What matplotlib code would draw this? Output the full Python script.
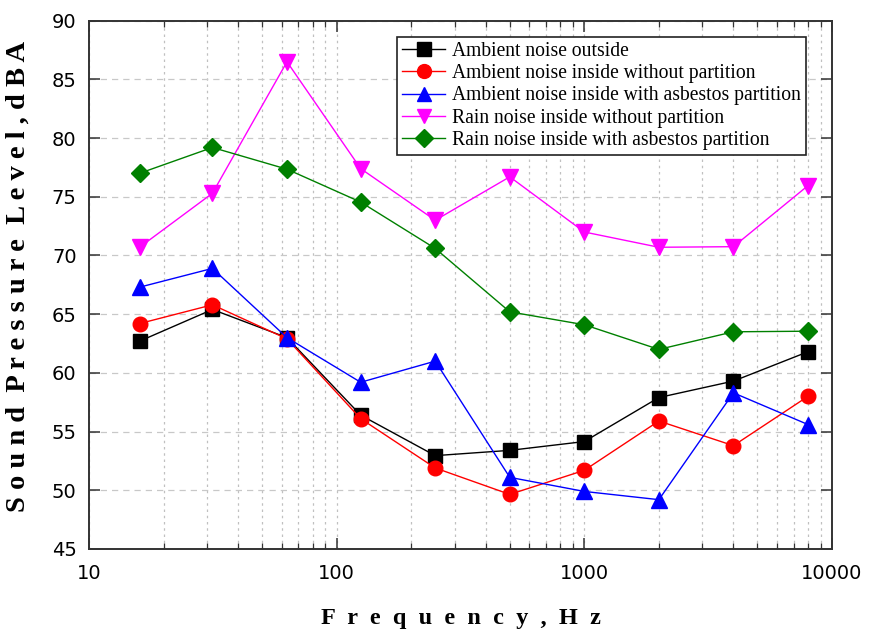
import matplotlib
matplotlib.use("Agg")
import matplotlib.pyplot as plt
from matplotlib.ticker import LogLocator, NullFormatter, FixedLocator

freq = [16, 31.5, 63, 125, 250, 500, 1000, 2000, 4000, 8000]
ambient_outside = [62.7, 65.4, 63.0, 56.4, 52.95, 53.4, 54.15, 57.9, 59.3, 61.8]
ambient_inside_no_part = [64.2, 65.8, 62.9, 56.1, 51.9, 49.65, 51.7, 55.9, 53.8, 58.0]
ambient_inside_asbestos = [67.3, 68.9, 63.0, 59.2, 61.0, 51.1, 49.9, 49.2, 58.3, 55.6]
rain_inside_no_part = [70.7, 75.3, 86.5, 77.4, 73.0, 76.7, 72.0, 70.7, 70.75, 75.95]
rain_inside_asbestos = [77.0, 79.2, 77.35, 74.55, 70.6, 65.2, 64.1, 62.0, 63.5, 63.55]

labels = ["Ambient noise outside",
          "Ambient noise inside without partition",
          "Ambient noise inside with asbestos partition",
          "Rain noise inside without partition",
          "Rain noise inside with asbestos partition"]
series = [ambient_outside, ambient_inside_no_part, ambient_inside_asbestos,
          rain_inside_no_part, rain_inside_asbestos]
colors = ["#000000", "#FF0000", "#0000FF", "#FF00FF", "#008000"]
markers = ["s", "o", "^", "v", "D"]
msizes = [10, 10.5, 11, 11, 9.5]

yticks = [45, 50, 55, 60, 65, 70, 75, 80, 85, 90]
xtick_labels = ["10", "100", "1000", "10000"]

fig = plt.figure(figsize=(8.71, 6.31), dpi=100)
ax = fig.add_axes([0.1022, 0.1300, 0.9552 - 0.1022, 0.9672 - 0.1300])

for ys, c, m, ms, lab in zip(series, colors, markers, msizes, labels):
    ax.plot(freq, ys, color=c, marker=m, markersize=ms, linewidth=1.0,
            markeredgecolor=c, label=lab, zorder=3)

ax.set_xscale("log")
ax.set_xlim(10, 10000)
ax.set_ylim(45, 90)
ax.xaxis.set_major_locator(FixedLocator([10, 100, 1000, 10000]))
ax.set_xticklabels(xtick_labels)
ax.xaxis.set_minor_locator(LogLocator(base=10, subs=range(2, 10)))
ax.xaxis.set_minor_formatter(NullFormatter())
ax.set_yticks(yticks)

ax.grid(True, which="both", axis="x", linestyle=(0, (2, 3)), color="#c0c0c0", linewidth=0.9)
ax.grid(True, which="major", axis="y", linestyle=(0, (5, 4)), color="#c8c8c8", linewidth=0.9)
ax.set_axisbelow(True)

ax.tick_params(axis="both", which="major", direction="in", length=8, width=1.1,
               top=True, right=True, labelsize=14, pad=11, color="#333333")
ax.tick_params(axis="x", which="minor", direction="in", length=4.5, width=0.9,
               top=True, bottom=True, color="#333333")
ax.tick_params(axis="y", which="minor", left=False, right=False)
for lab in ax.get_xticklabels() + ax.get_yticklabels():
    lab.set_fontfamily("DejaVu Sans")
ax.tick_params(axis="y", pad=9)

for sp in ax.spines.values():
    sp.set_linewidth(1.4)
    sp.set_color("#333333")

xl = "  ".join(list("Frequency,Hz"))
ax.set_xlabel(xl, fontfamily="Liberation Serif", fontweight="bold", fontsize=17.5)
ax.xaxis.set_label_coords(0.5, -0.112)
yl = "S o u n d  P r e s s u r e  L e v e l , d B A"
ax.set_ylabel(yl, fontfamily="Liberation Serif", fontweight="bold", fontsize=20.5)
ax.yaxis.set_label_coords(-0.078, 0.516)

leg = ax.legend(loc="upper right", bbox_to_anchor=(0.965, 0.9686), borderaxespad=0,
                prop={"family": "Liberation Serif", "size": 14.1},
                frameon=True, fancybox=False, edgecolor="#222222",
                handlelength=2.2, handletextpad=0.35, labelspacing=0.16,
                borderpad=0.25, markerscale=0.95)
leg.get_frame().set_linewidth(1.2)
leg.get_frame().set_alpha(1)

fig.savefig("out.png", dpi=100)
